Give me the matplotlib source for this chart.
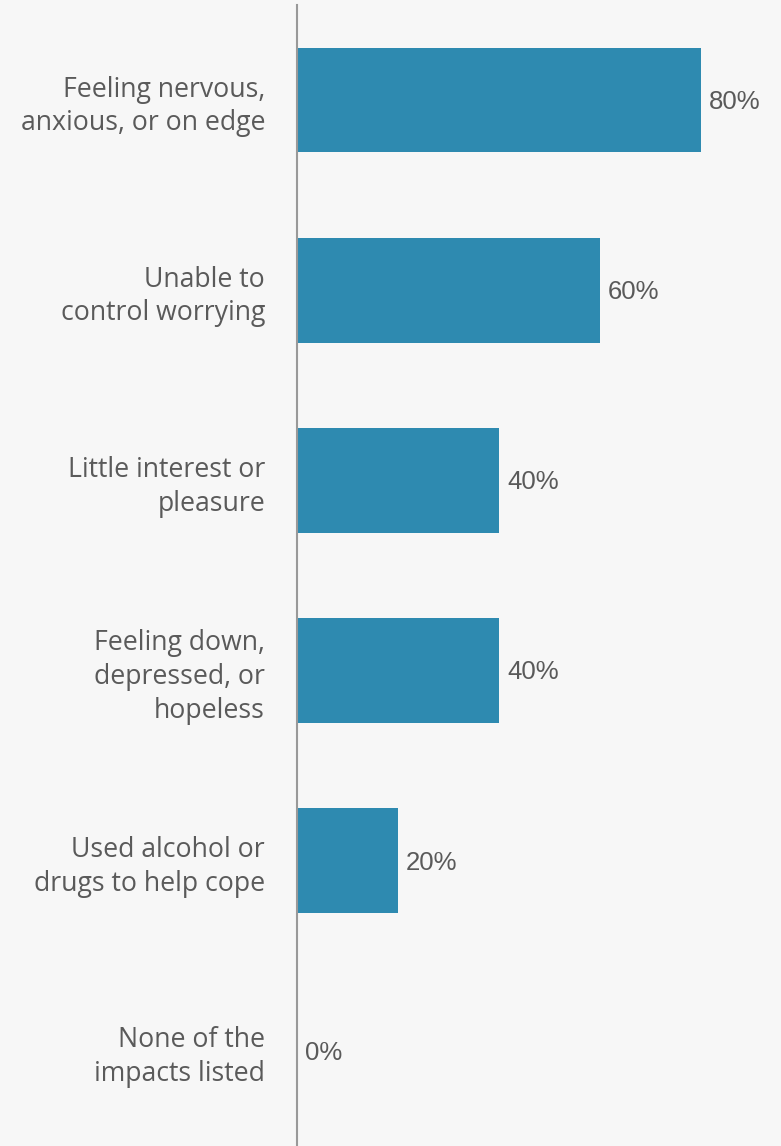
import matplotlib.pyplot as plt

categories = [
    "Feeling nervous,\nanxious, or on edge",
    "Unable to\ncontrol worrying",
    "Little interest or\npleasure",
    "Feeling down,\ndepressed, or\nhopeless",
    "Used alcohol or\ndrugs to help cope",
    "None of the\nimpacts listed",
]
values = [80, 60, 40, 40, 20, 0]
value_labels = ["80%", "60%", "40%", "40%", "20%", "0%"]

bg = "#f7f7f7"
fig = plt.figure(figsize=(7.81, 11.46), dpi=100, facecolor=bg)
ax = fig.add_axes([297 / 781, 0, 484 / 781, 1141 / 1146])
ax.set_facecolor(bg)

y = list(range(len(values)))
ax.barh(y, values, height=0.55, color="#2e8ab0")
ax.set_ylim(len(values) - 0.5, -0.5)
ax.set_xlim(0, 95.8)

for yi, v, lab in zip(y, values, value_labels):
    ax.text(v + 1.6, yi + 0.01, lab, va="center", ha="left", fontsize=18.5,
            color="#5a5a5a", family="Liberation Sans")

ax.set_yticks(y)
ax.set_yticklabels(categories, fontsize=19.2, color="#5a5a5a", family="Open Sans",
                   linespacing=1.27)
ax.tick_params(axis="y", length=0, pad=23)
ax.set_xticks([])
for s in ["top", "right", "bottom"]:
    ax.spines[s].set_visible(False)
ax.spines["left"].set_color("#999999")
ax.spines["left"].set_linewidth(1.5)

fig.savefig("out.png", dpi=100, facecolor=bg)
